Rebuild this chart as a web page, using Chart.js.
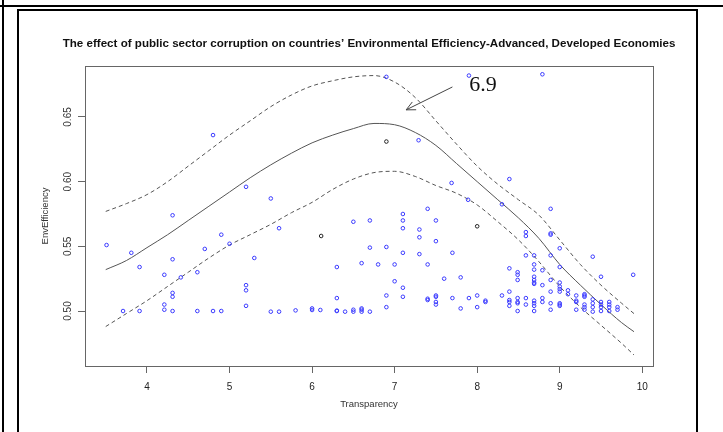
<!DOCTYPE html>
<html>
<head>
<meta charset="utf-8">
<script src="https://cdn.jsdelivr.net/npm/chart.js@4.4.1/dist/chart.umd.min.js"></script>
<style>
  body { margin: 0; background: #fff; }
  #wrap { position: relative; width: 723px; height: 432px; overflow: hidden; }
  .ln { position: absolute; background: #000; }
  canvas { position: absolute; left: 0; top: 0; }
</style>
</head>
<body>
<div id="wrap">
  <div class="ln" style="left:0;top:5px;width:723px;height:2px"></div>
  <div class="ln" style="left:2px;top:0;width:2px;height:432px"></div>
  <div class="ln" style="left:17px;top:9px;width:680px;height:2px"></div>
  <div class="ln" style="left:17px;top:9px;width:2px;height:423px"></div>
  <div class="ln" style="left:696px;top:9px;width:2px;height:423px"></div>
  <canvas id="myChart" width="723" height="432"></canvas>
</div>
<script>
var titleText = 'The effect of public sector corruption on countries\u2019 Environmental Efficiency-Advanced, Developed Economies';
var xTicks = [4, 5, 6, 7, 8, 9, 10];
var yTicks = [0.50, 0.55, 0.60, 0.65];

// observed countries (blue)
var ptX = [3.51, 3.81, 3.91, 3.71, 3.91, 4.21, 4.21, 4.21, 4.31, 4.31, 4.31, 4.31, 4.31, 4.41, 4.61, 4.61,
  4.70, 4.80, 4.80, 4.90, 4.90, 5.00, 5.20, 5.20, 5.20, 5.20, 5.30, 5.50, 5.50, 5.60, 5.60, 5.80,
  6.00, 6.00, 6.10, 6.30, 6.30, 6.30, 6.30, 6.40, 6.50, 6.50, 6.50, 6.60, 6.60, 6.60, 6.60, 6.70,
  6.70, 6.70, 6.80, 6.90, 6.90, 6.90, 6.90, 7.00, 7.00, 7.10, 7.10, 7.10, 7.10, 7.10, 7.10, 7.29,
  7.30, 7.30, 7.30, 7.40, 7.40, 7.40, 7.40, 7.50, 7.50, 7.50, 7.50, 7.50, 7.50, 7.60, 7.69, 7.70,
  7.70, 7.80, 7.80, 7.89, 7.90, 7.90, 8.00, 8.00, 8.10, 8.10, 8.30, 8.30, 8.39, 8.39, 8.39, 8.39,
  8.39, 8.39, 8.49, 8.49, 8.49, 8.49, 8.49, 8.49, 8.49, 8.59, 8.59, 8.59, 8.59, 8.59, 8.69, 8.69,
  8.69, 8.69, 8.69, 8.69, 8.69, 8.69, 8.69, 8.69, 8.69, 8.79, 8.79, 8.79, 8.79, 8.79, 8.89, 8.89,
  8.89, 8.89, 8.89, 8.89, 8.89, 8.89, 9.00, 9.00, 9.00, 9.00, 9.00, 9.00, 9.00, 9.00, 9.00, 9.10,
  9.10, 9.20, 9.20, 9.20, 9.20, 9.30, 9.30, 9.30, 9.30, 9.30, 9.30, 9.40, 9.40, 9.40, 9.40, 9.40,
  9.50, 9.50, 9.50, 9.50, 9.50, 9.60, 9.60, 9.60, 9.60, 9.70, 9.70, 9.89];
var ptY = [0.551, 0.545, 0.534, 0.500, 0.500, 0.528, 0.505, 0.501, 0.574, 0.540, 0.514, 0.511, 0.500, 0.526, 0.530, 0.500,
  0.548, 0.636, 0.500, 0.559, 0.500, 0.552, 0.596, 0.520, 0.516, 0.504, 0.541, 0.587, 0.4995, 0.564, 0.4995, 0.5005,
  0.502, 0.5008, 0.5008, 0.534, 0.510, 0.500, 0.5003, 0.4995, 0.569, 0.501, 0.4995, 0.537, 0.502, 0.501, 0.4995, 0.570,
  0.549, 0.4995, 0.536, 0.681, 0.5495, 0.512, 0.503, 0.536, 0.523, 0.575, 0.570, 0.564, 0.545, 0.518, 0.511, 0.632,
  0.563, 0.557, 0.544, 0.579, 0.536, 0.5085, 0.5095, 0.570, 0.554, 0.512, 0.511, 0.507, 0.505, 0.525, 0.599, 0.545,
  0.510, 0.526, 0.502, 0.586, 0.682, 0.510, 0.512, 0.503, 0.508, 0.507, 0.5825, 0.512, 0.602, 0.533, 0.515, 0.5085,
  0.507, 0.504, 0.530, 0.528, 0.524, 0.510, 0.507, 0.506, 0.500, 0.561, 0.558, 0.543, 0.510, 0.505, 0.543, 0.536,
  0.532, 0.5265, 0.524, 0.522, 0.521, 0.508, 0.506, 0.504, 0.500, 0.683, 0.5315, 0.520, 0.510, 0.507, 0.579, 0.560,
  0.559, 0.543, 0.524, 0.515, 0.506, 0.501, 0.5485, 0.534, 0.522, 0.519, 0.517, 0.515, 0.506, 0.505, 0.504, 0.516,
  0.513, 0.512, 0.508, 0.507, 0.501, 0.513, 0.512, 0.511, 0.505, 0.503, 0.501, 0.542, 0.509, 0.506, 0.503, 0.4995,
  0.5265, 0.507, 0.505, 0.503, 0.500, 0.507, 0.505, 0.503, 0.500, 0.503, 0.501, 0.528];

// highlighted countries (black)
var blkX = [6.11, 6.90, 8.00];
var blkY = [0.558, 0.631, 0.5655];

// fitted curve with confidence band
var fitX = [3.5, 3.75, 4.0, 4.25, 4.5, 4.75, 5.0, 5.25, 5.5, 5.75, 6.0, 6.25, 6.5, 6.75, 7.0,
  7.25, 7.5, 7.75, 8.0, 8.25, 8.5, 8.75, 9.0, 9.25, 9.5, 9.75, 9.9];
var fitY = [0.532, 0.539, 0.549, 0.559, 0.570, 0.581, 0.592, 0.603, 0.613, 0.622, 0.630, 0.636, 0.641, 0.645, 0.644,
  0.638, 0.628, 0.614, 0.600, 0.586, 0.572, 0.556, 0.536, 0.520, 0.505, 0.491, 0.484];
var upperY = [0.577, 0.583, 0.590, 0.600, 0.612, 0.624, 0.636, 0.647, 0.658, 0.667, 0.674, 0.678, 0.681, 0.682, 0.677,
  0.665, 0.647, 0.629, 0.612, 0.598, 0.586, 0.574, 0.555, 0.536, 0.520, 0.506, 0.498];
var lowerY = [0.488, 0.498, 0.508, 0.519, 0.530, 0.541, 0.551, 0.559, 0.567, 0.576, 0.584, 0.594, 0.602, 0.607, 0.608,
  0.604, 0.597, 0.591, 0.582, 0.569, 0.555, 0.538, 0.519, 0.503, 0.489, 0.475, 0.466];

function pairs(xs, ys) {
  return xs.map(function (v, i) { return { x: v, y: ys[i] }; });
}

// R-like box, titles, rotated y labels and the "6.9" arrow
var rStyle = {
  id: 'rStyle',
  afterDraw: function (chart) {
    var ctx = chart.ctx, a = chart.chartArea, x = chart.scales.x, y = chart.scales.y;
    var cx = (a.left + a.right) / 2;
    ctx.save();
    ctx.strokeStyle = '#666';
    ctx.lineWidth = 1;
    ctx.strokeRect(a.left + 0.5, a.top + 0.5, a.right - a.left, a.bottom - a.top);

    ctx.fillStyle = '#111';
    ctx.textAlign = 'center';
    ctx.textBaseline = 'middle';
    ctx.font = 'bold 11.6px "Liberation Sans", Arial, sans-serif';
    ctx.fillText(titleText, cx, 44);

    ctx.fillStyle = '#333';
    ctx.font = '9.5px "Liberation Sans", Arial, sans-serif';
    ctx.fillText('Transparency', cx, 404);

    ctx.save();
    ctx.translate(45, (a.top + a.bottom) / 2);
    ctx.rotate(-Math.PI / 2);
    ctx.fillText('EnvEfficiency', 0, 0);
    ctx.restore();

    ctx.font = '10px "Liberation Sans", Arial, sans-serif';
    yTicks.forEach(function (v) {
      ctx.save();
      ctx.translate(68, y.getPixelForValue(v));
      ctx.rotate(-Math.PI / 2);
      ctx.fillText(v.toFixed(2), 0, 0);
      ctx.restore();
    });

    // annotation
    var x0 = x.getPixelForValue(7.70), y0 = y.getPixelForValue(0.6732);
    var x1 = x.getPixelForValue(7.14), y1 = y.getPixelForValue(0.6555);
    ctx.strokeStyle = '#444';
    ctx.beginPath();
    ctx.moveTo(x0, y0);
    ctx.lineTo(x1, y1);
    var ang = Math.atan2(y0 - y1, x0 - x1);
    [0.45, -0.45].forEach(function (d) {
      ctx.moveTo(x1, y1);
      ctx.lineTo(x1 + 10 * Math.cos(ang + d), y1 + 10 * Math.sin(ang + d));
    });
    ctx.stroke();
    ctx.fillStyle = '#111';
    ctx.font = '22px "Liberation Serif", "Times New Roman", serif';
    ctx.fillText('6.9', x.getPixelForValue(8.07), y.getPixelForValue(0.6748));
    ctx.restore();
  }
};

var ctx = document.getElementById('myChart').getContext('2d');
var myChart = new Chart(ctx, {
  type: 'scatter',
  data: {
    datasets: [{
      data: pairs(ptX, ptY),
      pointRadius: 1.8,
      borderColor: '#3a3aff',
      backgroundColor: 'rgba(0,0,0,0)',
      borderWidth: 1
    }, {
      data: pairs(blkX, blkY),
      pointRadius: 1.8,
      borderColor: '#222',
      backgroundColor: 'rgba(0,0,0,0)',
      borderWidth: 1
    }, {
      data: pairs(fitX, fitY),
      showLine: true,
      pointRadius: 0,
      borderColor: '#555',
      borderWidth: 1,
      cubicInterpolationMode: 'monotone'
    }, {
      data: pairs(fitX, upperY),
      showLine: true,
      pointRadius: 0,
      borderColor: '#555',
      borderWidth: 1,
      borderDash: [4, 3],
      cubicInterpolationMode: 'monotone'
    }, {
      data: pairs(fitX, lowerY),
      showLine: true,
      pointRadius: 0,
      borderColor: '#555',
      borderWidth: 1,
      borderDash: [4, 3],
      cubicInterpolationMode: 'monotone'
    }]
  },
  options: {
    responsive: false,
    animation: false,
    layout: { padding: { left: 0, right: 70, top: 66, bottom: 0 } },
    plugins: { legend: { display: false }, title: { display: false }, tooltip: { enabled: false } },
    scales: {
      x: {
        type: 'linear',
        min: 3.249,
        max: 10.13,
        afterBuildTicks: function (s) { s.ticks = xTicks.map(function (v) { return { value: v }; }); },
        afterFit: function (s) { s.height = 66; },
        grid: { drawOnChartArea: false, tickLength: 7, color: '#666' },
        border: { color: '#666' },
        ticks: { color: '#222', padding: 8, font: { size: 10, family: '"Liberation Sans", Arial, sans-serif' } }
      },
      y: {
        type: 'linear',
        min: 0.4575,
        max: 0.6894,
        afterBuildTicks: function (s) { s.ticks = yTicks.map(function (v) { return { value: v }; }); },
        afterFit: function (s) { s.width = 85; },
        grid: { drawOnChartArea: false, tickLength: 7, color: '#666' },
        border: { color: '#666' },
        ticks: { display: false }
      }
    }
  },
  plugins: [rStyle]
});
</script>
</body>
</html>
